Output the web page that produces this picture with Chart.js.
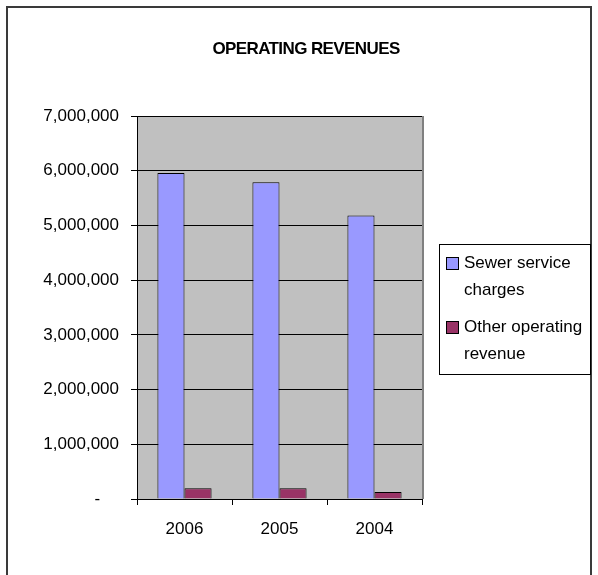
<!DOCTYPE html>
<html>
<head>
<meta charset="utf-8">
<script src="https://cdn.jsdelivr.net/npm/chart.js@4/dist/chart.umd.min.js"></script>
<style>
  body { margin: 0; background: #fff; }
  canvas { display: block; }
</style>
</head>
<body>
<canvas id="revChart" width="598" height="575"></canvas>
<script>
// data
const years = ['2006', '2005', '2004'];
const sewerCharges = [5960000, 5790000, 5180000];
const otherRevenue = [196000, 196000, 128000];
const seriesNames = ['Sewer service charges', 'Other operating revenue'];
const yTicks = [0, 1000000, 2000000, 3000000, 4000000, 5000000, 6000000, 7000000];
const chartTitle = 'OPERATING REVENUES';

const font = "'Liberation Sans', Arial, sans-serif";

// plot background, frame, title and boxed legend
const excelLook = {
    id: 'excelLook',
    beforeDraw(chart) {
        const { ctx, chartArea: a } = chart;
        ctx.save();
        ctx.fillStyle = '#c0c0c0';
        ctx.fillRect(a.left, a.top, a.right - a.left, a.bottom - a.top);
        ctx.restore();
    },
    afterDraw(chart) {
        const { ctx, chartArea: a } = chart;
        ctx.save();
        // right edge of plot area
        ctx.strokeStyle = '#808080';
        ctx.lineWidth = 2;
        ctx.beginPath();
        ctx.moveTo(a.right + 1, a.top);
        ctx.lineTo(a.right + 1, a.bottom);
        ctx.stroke();

        // outer frame
        ctx.strokeStyle = '#3a3a3a';
        ctx.lineWidth = 2;
        ctx.strokeRect(7, 7, 584, 620);

        // title
        ctx.fillStyle = '#000';
        ctx.font = 'bold 17px ' + font;
        ctx.letterSpacing = '-0.6px';
        ctx.textAlign = 'center';
        ctx.textBaseline = 'middle';
        ctx.fillText(chartTitle, 306, 49);
        ctx.letterSpacing = '0px';

        // legend box
        ctx.lineWidth = 1;
        ctx.strokeStyle = '#000';
        ctx.strokeRect(439.5, 244.5, 151, 130);
        ctx.font = '17px ' + font;
        ctx.textAlign = 'left';
        let y = 263;
        chart.data.datasets.forEach(ds => {
            const words = ds.label.split(' ');
            const lines = [];
            let cur = '';
            words.forEach(w => {
                const test = cur ? cur + ' ' + w : w;
                if (cur && ctx.measureText(test).width > 124) {
                    lines.push(cur);
                    cur = w;
                } else {
                    cur = test;
                }
            });
            lines.push(cur);
            ctx.fillStyle = ds.backgroundColor;
            ctx.fillRect(446, y - 6, 12, 12);
            ctx.strokeStyle = '#000';
            ctx.strokeRect(446.5, y - 5.5, 12, 12);
            ctx.fillStyle = '#000';
            lines.forEach((ln, i) => ctx.fillText(ln, 464, y + i * 27));
            y += lines.length * 27 + 10;
        });
        ctx.restore();
    }
};

new Chart(document.getElementById('revChart'), {
    type: 'bar',
    data: {
        labels: years,
        datasets: [{
            label: seriesNames[0],
            data: sewerCharges,
            backgroundColor: '#9999ff',
            borderColor: '#000',
            borderWidth: 1
        }, {
            label: seriesNames[1],
            data: otherRevenue,
            backgroundColor: '#993366',
            borderColor: '#000',
            borderWidth: 1
        }]
    },
    options: {
        responsive: false,
        animation: false,
        categoryPercentage: 0.57,
        barPercentage: 1,
        layout: {
            padding: { top: 116, right: 176, left: 0, bottom: 0 }
        },
        plugins: {
            legend: { display: false },
            title: { display: false },
            tooltip: { enabled: false }
        },
        scales: {
            x: {
                afterFit: s => { s.height = 76; },
                grid: {
                    drawOnChartArea: false,
                    drawTicks: true,
                    tickLength: 6,
                    color: '#000'
                },
                border: { color: '#000', width: 1 },
                ticks: {
                    color: '#000',
                    padding: 14,
                    font: { family: font, size: 17 }
                }
            },
            y: {
                min: 0,
                max: 7000000,
                afterFit: s => { s.width = 137; },
                afterBuildTicks: s => { s.ticks = yTicks.map(v => ({ value: v })); },
                grid: {
                    color: '#000',
                    tickLength: 6
                },
                border: { color: '#000', width: 1 },
                ticks: {
                    color: '#000',
                    padding: 12,
                    font: { family: font, size: 17 },
                    callback: v => v === 0 ? '-    ' : v.toLocaleString('en-US')
                }
            }
        }
    },
    plugins: [excelLook]
});
</script>
</body>
</html>
